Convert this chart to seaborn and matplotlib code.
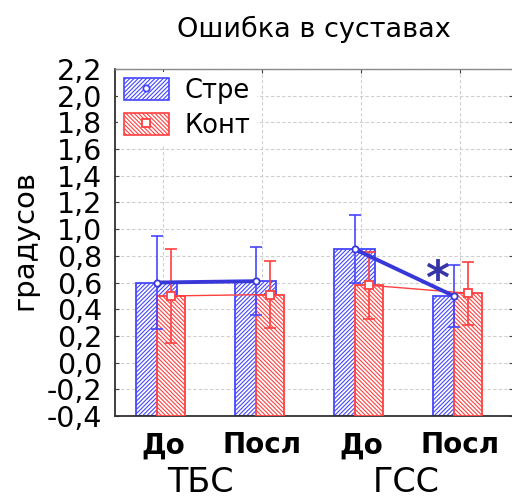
import numpy as np
import pandas as pd
import matplotlib
matplotlib.use("Agg")
import matplotlib.pyplot as plt
from matplotlib.patches import Patch
from matplotlib.lines import Line2D
from matplotlib.legend_handler import HandlerTuple
import seaborn as sns

# ---- data -------------------------------------------------------------
phases = ["До", "Посл", "До", "Посл"]
groups = ["ТБС", "ГСС"]
stre_mean = [0.60, 0.61, 0.85, 0.50]
stre_err = [0.35, 0.255, 0.255, 0.235]
kont_mean = [0.50, 0.51, 0.58, 0.52]
kont_err = [0.35, 0.25, 0.25, 0.235]
yticks = [-0.4, -0.2, 0.0, 0.2, 0.4, 0.6, 0.8, 1.0, 1.2, 1.4, 1.6, 1.8, 2.0, 2.2]
series_names = ["Стре", "Конт"]
BASE = -0.4  # bars rise from the lower edge of the value axis

# ---- style ------------------------------------------------------------
sns.set_style("white")
plt.rcParams["font.family"] = ["DejaVu Sans"]
plt.rcParams["text.color"] = "black"
plt.rcParams["hatch.linewidth"] = 0.8

BLUE = "#4646ff"
BLUE_LINE = "#3838d8"
RED = "#ff4040"
STAR = "#3535a8"
HATCH_S = "////////"
HATCH_K = "\\\\\\\\\\\\\\\\"

fig = plt.figure(figsize=(5.12, 4.99), dpi=100)
ax = fig.add_axes([115 / 512, 83 / 499, 398 / 512, 347 / 499])

pos = np.arange(len(phases))
off_s, off_k = -0.065, 0.08
w_s, w_k = 0.41, 0.29

df_s = pd.DataFrame({"x": pos + off_s, "h": np.array(stre_mean) - BASE})
df_k = pd.DataFrame({"x": pos + off_k, "h": np.array(kont_mean) - BASE})

sns.barplot(data=df_s, x="x", y="h", native_scale=True, width=w_s, bottom=BASE,
            color=BLUE, errorbar=None, ax=ax, zorder=2)
n_s = len(ax.patches)
sns.barplot(data=df_k, x="x", y="h", native_scale=True, width=w_k, bottom=BASE,
            color=RED, errorbar=None, ax=ax, zorder=3)

for i, p in enumerate(ax.patches):
    col = BLUE if i < n_s else RED
    p.set_facecolor("white")
    p.set_edgecolor(col)
    p.set_hatch(HATCH_S if i < n_s else HATCH_K)
    p.set_linewidth(1.3)

# error bars
ax.errorbar(pos + off_s, stre_mean, yerr=stre_err, fmt="none", ecolor=BLUE,
            elinewidth=1.2, capsize=4, capthick=1.2, zorder=5)
ax.errorbar(pos + off_k, kont_mean, yerr=kont_err, fmt="none", ecolor=RED,
            elinewidth=1.2, capsize=4, capthick=1.2, zorder=5)

# mean lines inside each group
for g in range(2):
    idx = [2 * g, 2 * g + 1]
    ax.plot(pos[idx] + off_k, [kont_mean[i] for i in idx], color=RED, lw=1.0,
            zorder=6)
    ax.plot(pos[idx] + off_s, [stre_mean[i] for i in idx], color=BLUE_LINE,
            lw=2.8, zorder=7)
ax.plot(pos + off_k, kont_mean, ls="", marker="s", ms=6, mfc="white",
        mec=RED, mew=1.3, zorder=8)
ax.plot(pos + off_s, stre_mean, ls="", marker="o", ms=4.5, mfc="white",
        mec=BLUE_LINE, mew=1.3, zorder=8)

# significance mark
ax.text(2.77, 0.61, "*", color=STAR, fontsize=33, fontweight="bold",
        ha="center", va="center", zorder=9)

# ---- axes -------------------------------------------------------------
ax.set_xlim(-0.485, 3.535)
ax.set_ylim(-0.4, 2.2)
ax.set_yticks(yticks)
ax.set_yticklabels([f"{v:.1f}".replace(".", ",") for v in yticks], fontsize=20.5)
ax.set_xticks(pos)
ax.set_xticklabels(phases, fontsize=20, fontweight="bold")
ax.set_xlabel("")
ax.set_ylabel("")
ax.tick_params(axis="both", direction="in", length=3, width=0.8,
               colors="#404040", labelcolor="black")
ax.tick_params(axis="y", pad=9, right=True, left=True)
ax.tick_params(axis="x", pad=11, top=True, bottom=True)
ax.grid(True, color="#cfcfcf", ls=(0, (3, 2)), lw=0.8)
ax.set_axisbelow(True)
for side in ["left", "bottom"]:
    ax.spines[side].set_color("#303030")
    ax.spines[side].set_linewidth(1.3)
for side in ["top", "right"]:
    ax.spines[side].set_color("#8a8a8a")
    ax.spines[side].set_linewidth(1.0)

# legend
h_s = (Patch(facecolor="white", edgecolor=BLUE, hatch=HATCH_S, lw=1.2),
       Line2D([], [], ls="", marker="o", ms=4.5, mfc="white", mec=BLUE, mew=1.3))
h_k = (Patch(facecolor="white", edgecolor=RED, hatch=HATCH_K, lw=1.2),
       Line2D([], [], ls="", marker="s", ms=6, mfc="white", mec=RED, mew=1.3))
leg = ax.legend([h_s, h_k], series_names,
                handler_map={tuple: HandlerTuple(ndivide=1, pad=0)},
                loc="upper left", fontsize=18.5, frameon=True, fancybox=False,
                facecolor="white", edgecolor="none", framealpha=1,
                borderaxespad=0.1, borderpad=0.25, handlelength=1.75,
                handleheight=0.95, handletextpad=0.6, labelspacing=0.35)
leg.set_zorder(10)
for t in leg.get_texts():
    t.set_color("black")

# titles and labels
fig.text(314 / 512, 1 - 29 / 499, "Ошибка в суставах", fontsize=19.5,
         ha="center", va="center", color="black")
fig.text(24 / 512, 1 - 240 / 499, "градусов", fontsize=21, rotation=90,
         ha="center", va="center", color="black")
for gi, name in enumerate(groups):
    xc = [200, 406][gi]
    fig.text(xc / 512, 1 - 483 / 499, name, fontsize=24, ha="center",
             va="center", color="black")

fig.savefig("out.png", dpi=100)
